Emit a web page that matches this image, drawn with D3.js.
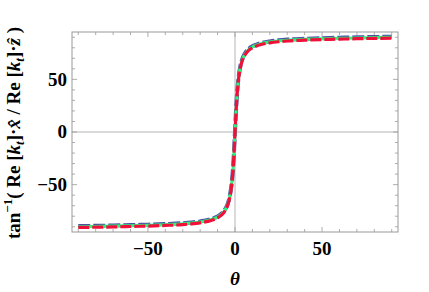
<!DOCTYPE html>
<html>
<head>
<meta charset="utf-8">
<script src="https://cdn.jsdelivr.net/npm/d3@7"></script>
<style>
  body { margin: 0; background: #fff; }
</style>
</head>
<body>
<div id="chart"></div>
<script>
// angle theta (deg)
const theta = [-90, -80, -70, -60, -50, -40, -30, -25, -20, -15, -12, -10, -8, -6, -5, -4, -3, -2, -1.5, -1, -0.5,
  0, 0.5, 1, 1.5, 2, 3, 4, 5, 6, 8, 10, 12, 15, 20, 25, 30, 40, 50, 60, 70, 80, 90];
// tan^-1 ratio (three curves overlap)
const seriesBlue = [-89.9, -89.7, -89.4, -89.0, -88.6, -88.0, -87.2, -86.5, -85.5, -83.9, -82.3, -80.8, -78.5, -74.8, -71.9, -67.8, -61.4, -50.7, -42.5, -31.4, -17.0,
  0, 17.0, 31.4, 42.5, 50.7, 61.4, 67.8, 71.9, 74.8, 78.5, 80.8, 82.3, 83.9, 85.5, 86.5, 87.2, 88.0, 88.6, 89.0, 89.4, 89.7, 89.9];
const seriesGreen = seriesBlue.slice();
const seriesRed = seriesBlue.slice();

const xMajor = [-50, 0, 50];
const yMajor = [-50, 0, 50];
const minorTicks = [-90, -80, -70, -60, -50, -40, -30, -20, -10, 0, 10, 20, 30, 40, 50, 60, 70, 80, 90];

const W = 429, H = 292;
const svg = d3.select('#chart').append('svg').attr('width', W).attr('height', H)
  .attr('font-family', "'Liberation Serif', 'Times New Roman', 'DejaVu Serif', serif")
  .attr('font-weight', 'bold');

const x = d3.scaleLinear().domain([-93.6, 93.6]).range([72, 398]);
const y = d3.scaleLinear().domain([-95, 95]).range([232, 32]);

const frameColor = '#999';

// zero axes
svg.append('line').attr('x1', x(0)).attr('x2', x(0)).attr('y1', y.range()[0]).attr('y2', y.range()[1])
  .attr('stroke', '#b5b5b5').attr('stroke-width', 1);
svg.append('line').attr('x1', x.range()[0]).attr('x2', x.range()[1]).attr('y1', y(0)).attr('y2', y(0))
  .attr('stroke', '#b5b5b5').attr('stroke-width', 1);

// frame ticks
const tickLen = v => xMajor.includes(v) ? 5 : 3;
const g = svg.append('g').attr('stroke', frameColor).attr('stroke-width', 0.8);
minorTicks.forEach(v => {
  const L = tickLen(v);
  g.append('line').attr('x1', x(v)).attr('x2', x(v)).attr('y1', y.range()[0]).attr('y2', y.range()[0] - L);
  g.append('line').attr('x1', x(v)).attr('x2', x(v)).attr('y1', y.range()[1]).attr('y2', y.range()[1] + L);
  g.append('line').attr('y1', y(v)).attr('y2', y(v)).attr('x1', x.range()[0]).attr('x2', x.range()[0] + L);
  g.append('line').attr('y1', y(v)).attr('y2', y(v)).attr('x1', x.range()[1]).attr('x2', x.range()[1] - L);
});
svg.append('rect').attr('x', x.range()[0]).attr('y', y.range()[1])
  .attr('width', x.range()[1] - x.range()[0]).attr('height', y.range()[0] - y.range()[1])
  .attr('fill', 'none').attr('stroke', frameColor).attr('stroke-width', 1);

const fmt = v => v < 0 ? '\u2212' + Math.abs(v) : String(v);

// tick labels
svg.append('g').selectAll('text').data(xMajor).join('text')
  .attr('x', d => x(d)).attr('y', 255).attr('text-anchor', 'middle')
  .attr('font-size', 19).text(fmt);
svg.append('g').selectAll('text').data(yMajor).join('text')
  .attr('x', 67).attr('y', d => y(d)).attr('dy', '0.34em').attr('text-anchor', 'end')
  .attr('font-size', 19).text(fmt);

// curves
const line = d3.line().x((d, i) => x(theta[i])).y(d => y(d)).curve(d3.curveMonotoneX);
svg.append('clipPath').attr('id', 'clip').append('rect')
  .attr('x', x.range()[0]).attr('y', y.range()[1])
  .attr('width', x.range()[1] - x.range()[0]).attr('height', y.range()[0] - y.range()[1]);
const curves = svg.append('g').attr('clip-path', 'url(#clip)').attr('fill', 'none')
  .attr('stroke-linecap', 'butt').attr('stroke-linejoin', 'round');
curves.append('path').attr('d', line(seriesBlue)).attr('stroke', '#4b4fa6')
  .attr('stroke-width', 4).attr('stroke-dasharray', '12,3')
  .attr('transform', 'translate(0,-0.6)');
curves.append('path').attr('d', line(seriesGreen)).attr('stroke', '#2ef57a')
  .attr('stroke-width', 3);
curves.append('path').attr('d', line(seriesRed)).attr('stroke', '#f0103a')
  .attr('stroke-width', 3.2).attr('stroke-dasharray', '11,3')
  .attr('transform', 'translate(0,0.8)');

// axis labels
svg.append('text').attr('x', x(0)).attr('y', 285).attr('text-anchor', 'middle')
  .attr('font-size', 19).attr('font-style', 'italic').text('\u03b8');

const yl = svg.append('text').attr('transform', 'translate(20,133) rotate(-90)')
  .attr('text-anchor', 'middle').attr('font-size', 19);
yl.append('tspan').text('tan');
yl.append('tspan').attr('dy', -8).attr('font-size', 13).text('\u22121');
yl.append('tspan').attr('dy', 8).text('( Re [');
yl.append('tspan').attr('font-style', 'italic').text('k');
yl.append('tspan').attr('font-style', 'italic').attr('font-size', 13).attr('dy', 4).text('t');
yl.append('tspan').attr('dy', -4).text(']\u00b7');
yl.append('tspan').attr('font-style', 'italic').text('x\u0302');
yl.append('tspan').text(' / Re [');
yl.append('tspan').attr('font-style', 'italic').text('k');
yl.append('tspan').attr('font-style', 'italic').attr('font-size', 13).attr('dy', 4).text('t');
yl.append('tspan').attr('dy', -4).text(']\u00b7');
yl.append('tspan').attr('font-style', 'italic').text('z\u0302');
yl.append('tspan').text(' )');
</script>
</body>
</html>
